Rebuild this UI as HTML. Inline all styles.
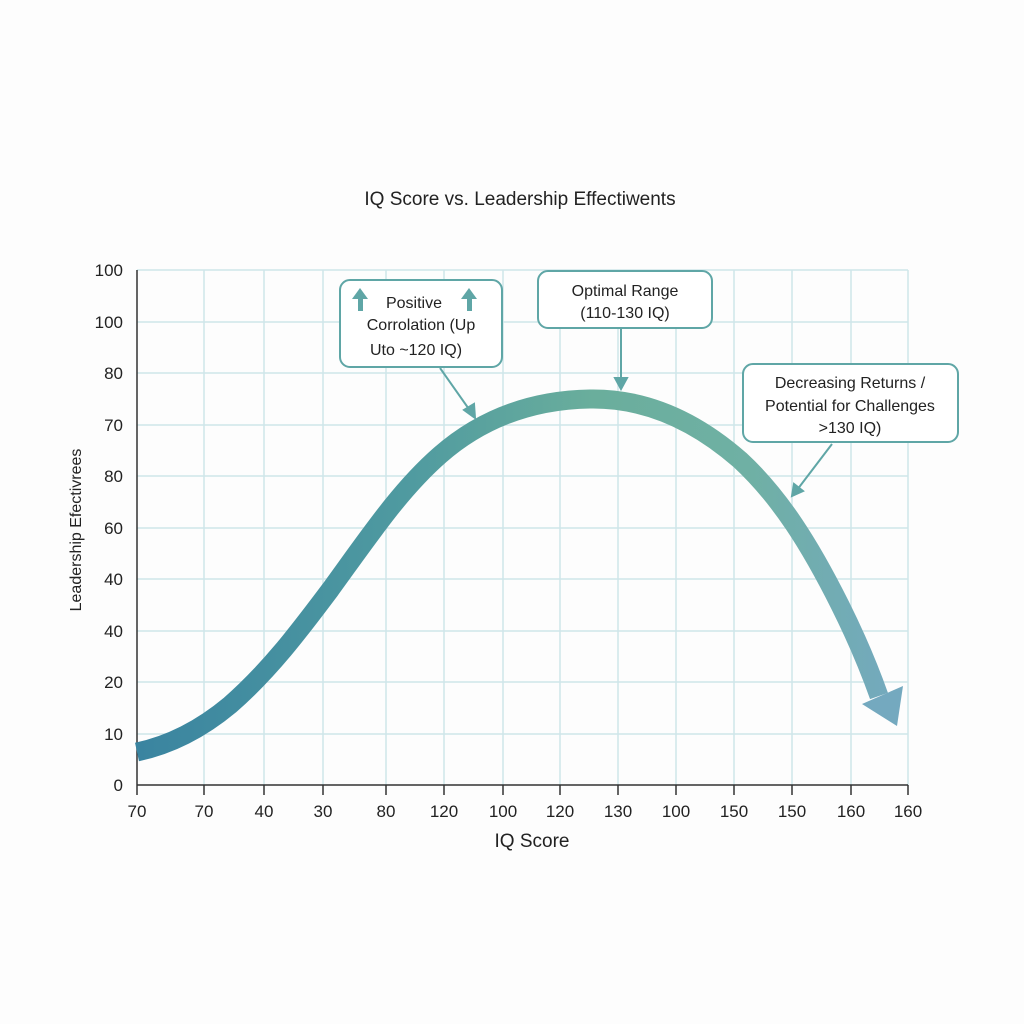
<!DOCTYPE html>
<html><head><meta charset="utf-8"><style>
html,body{margin:0;padding:0;background:#fdfdfd;}
svg{display:block;font-family:"Liberation Sans",sans-serif;}
</style></head><body>
<svg width="1024" height="1024" viewBox="0 0 1024 1024">
<defs>
<linearGradient id="g" x1="137" y1="0" x2="900" y2="0" gradientUnits="userSpaceOnUse">
<stop offset="0" stop-color="#3a84a0"/>
<stop offset="0.35" stop-color="#4f9aa0"/>
<stop offset="0.6" stop-color="#6aae9c"/>
<stop offset="0.8" stop-color="#6fb0a4"/>
<stop offset="1" stop-color="#74a9bf"/>
</linearGradient>
</defs>
<rect width="1024" height="1024" fill="#fdfdfd"/>
<text x="520" y="205" text-anchor="middle" font-size="19" fill="#222">IQ Score vs. Leadership Effectiwents</text>
<g stroke="#cfe6ea" stroke-width="1.5">
<line x1="137" y1="270" x2="908" y2="270"/><line x1="137" y1="322" x2="908" y2="322"/>
<line x1="137" y1="373" x2="908" y2="373"/><line x1="137" y1="425" x2="908" y2="425"/>
<line x1="137" y1="476" x2="908" y2="476"/><line x1="137" y1="528" x2="908" y2="528"/>
<line x1="137" y1="579" x2="908" y2="579"/><line x1="137" y1="631" x2="908" y2="631"/>
<line x1="137" y1="682" x2="908" y2="682"/><line x1="137" y1="734" x2="908" y2="734"/>
<line x1="204" y1="270" x2="204" y2="785"/><line x1="264" y1="270" x2="264" y2="785"/>
<line x1="323" y1="270" x2="323" y2="785"/><line x1="386" y1="270" x2="386" y2="785"/>
<line x1="444" y1="270" x2="444" y2="785"/><line x1="503" y1="270" x2="503" y2="785"/>
<line x1="560" y1="270" x2="560" y2="785"/><line x1="618" y1="270" x2="618" y2="785"/>
<line x1="676" y1="270" x2="676" y2="785"/><line x1="734" y1="270" x2="734" y2="785"/>
<line x1="792" y1="270" x2="792" y2="785"/><line x1="851" y1="270" x2="851" y2="785"/>
<line x1="908" y1="270" x2="908" y2="785"/>
</g>
<g stroke="#333" stroke-width="1.5">
<line x1="137" y1="270" x2="137" y2="785"/><line x1="137" y1="785" x2="908" y2="785"/>
<line x1="137" y1="785" x2="137" y2="795"/><line x1="204" y1="785" x2="204" y2="795"/>
<line x1="264" y1="785" x2="264" y2="795"/><line x1="323" y1="785" x2="323" y2="795"/>
<line x1="386" y1="785" x2="386" y2="795"/><line x1="444" y1="785" x2="444" y2="795"/>
<line x1="503" y1="785" x2="503" y2="795"/><line x1="560" y1="785" x2="560" y2="795"/>
<line x1="618" y1="785" x2="618" y2="795"/><line x1="676" y1="785" x2="676" y2="795"/>
<line x1="734" y1="785" x2="734" y2="795"/><line x1="792" y1="785" x2="792" y2="795"/>
<line x1="851" y1="785" x2="851" y2="795"/><line x1="908" y1="785" x2="908" y2="795"/>
</g>
<g font-size="17" fill="#222" text-anchor="end">
<text x="123" y="276">100</text><text x="123" y="328">100</text><text x="123" y="379">80</text>
<text x="123" y="431">70</text><text x="123" y="482">80</text><text x="123" y="534">60</text>
<text x="123" y="585">40</text><text x="123" y="637">40</text><text x="123" y="688">20</text>
<text x="123" y="740">10</text><text x="123" y="791">0</text>
</g>
<g font-size="17" fill="#222" text-anchor="middle">
<text x="137" y="817">70</text><text x="204" y="817">70</text><text x="264" y="817">40</text>
<text x="323" y="817">30</text><text x="386" y="817">80</text><text x="444" y="817">120</text>
<text x="503" y="817">100</text><text x="560" y="817">120</text><text x="618" y="817">130</text>
<text x="676" y="817">100</text><text x="734" y="817">150</text><text x="792" y="817">150</text>
<text x="851" y="817">160</text><text x="908" y="817">160</text>
<text x="532" y="847" font-size="19">IQ Score</text>
</g>
<text transform="translate(81,530) rotate(-90)" text-anchor="middle" font-size="16" fill="#222">Leadership Efectivrees</text>
<path d="M137,752 C170,745 200,730 230,705 C270,670 300,630 330,590 C370,535 400,490 440,455 C480,420 530,400 590,399 C650,398 700,425 740,460 C780,497 810,545 840,605 C855,635 868,665 879,696" fill="none" stroke="url(#g)" stroke-width="19"/>
<polygon points="862,704 903,686 897,726" fill="#74a9bf"/>
<g fill="#fff" stroke="#5fa6a6" stroke-width="2">
<rect x="340" y="280" width="162" height="87" rx="10"/>
<rect x="538" y="271" width="174" height="57" rx="10"/>
<rect x="743" y="364" width="215" height="78" rx="10"/>
</g>
<g stroke="#5fa6a6" stroke-width="2" fill="#5fa6a6">
<line x1="440" y1="368" x2="471" y2="412"/><polygon points="475,418 464,410 474,404"/>
<line x1="621" y1="329" x2="621" y2="381"/><polygon points="621,389 615,378 627,378"/>
<line x1="832" y1="444" x2="797" y2="490"/><polygon points="792,496 794,484 803,491"/>
</g>
<g fill="#5fa6a6">
<rect x="358" y="298" width="5" height="13"/><polygon points="352,299 360,288 368,299"/>
<rect x="467" y="298" width="5" height="13"/><polygon points="461,299 469,288 477,299"/>
</g>
<g font-size="16" fill="#222" text-anchor="middle">
<text x="414" y="308">Positive</text>
<text x="421" y="330">Corrolation (Up</text>
<text x="416" y="355">Uto ~120 IQ)</text>
<text x="625" y="296">Optimal Range</text>
<text x="625" y="318">(110-130 IQ)</text>
<text x="850" y="388">Decreasing Returns /</text>
<text x="850" y="411">Potential for Challenges</text>
<text x="850" y="433">&gt;130 IQ)</text>
</g>
</svg>
</body></html>
